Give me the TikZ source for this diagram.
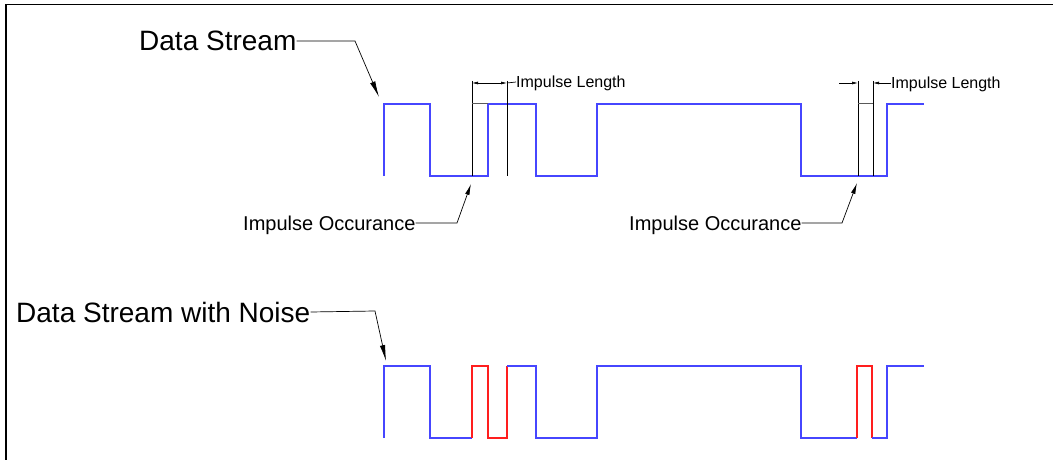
\documentclass[tikz,border=0pt]{standalone}
\usepackage{fontspec}
\setmainfont{Liberation Sans}
\usepackage{tikz}
\usetikzlibrary{arrows.meta}

\definecolor{sigblue}{RGB}{70,70,255}
\definecolor{noisered}{RGB}{255,30,30}

\tikzset{
	sig/.style={sigblue, line width=1.4pt},
	noise/.style={noisered, line width=1.4pt},
	dim/.style={black, line width=0.7pt},
	bigtxt/.style={font=\fontsize{28}{32}\selectfont, inner sep=0pt, text depth=0pt, anchor=west},
	midtxt/.style={font=\fontsize{20}{24}\selectfont, inner sep=0pt, text depth=0pt, anchor=west},
	smalltxt/.style={font=\fontsize{16}{20}\selectfont, inner sep=0pt, text depth=0pt, anchor=west},
	bigarrow/.style={dim, -{Latex[length=16pt,width=5.5pt]}},
	midarrow/.style={dim, -{Latex[length=11pt,width=4.5pt]}},
}

\begin{document}
\begin{tikzpicture}[x=1pt,y=-1pt]
\useasboundingbox (0,0) rectangle (1053,460);
% frame
\draw[line width=1.8pt] (6,460) -- (6,4.5) -- (1053,4.5);

% data stream
\draw[sig] (384,176) -- (384,104) -- (430,104) -- (430,176) -- (488,176) -- (488,104)
	-- (536,104) -- (536,176) -- (597,176) -- (597,104) -- (801,104) -- (801,176)
	-- (887,176) -- (887,104) -- (924,104);

% data stream with noise
\draw[sig] (384,438) -- (384,366) -- (430,366) -- (430,438) -- (472,438);
\draw[noise] (472,438) -- (472,366) -- (488,366) -- (488,438) -- (507,438) -- (507,366);
\draw[sig] (507,366) -- (536,366) -- (536,438) -- (597,438) -- (597,366) -- (801,366)
	-- (801,438) -- (857,438);
\draw[noise] (857,438) -- (857,366) -- (872,366) -- (872,438);
\draw[sig] (872,438) -- (887,438) -- (887,366) -- (924,366);

% impulse marks
\foreach \x in {472,507,858,873}
	{
	\draw[dim] (\x,81) -- (\x,176);
	}
\draw[dim, black!65, line width=1pt] (472,104) -- (488,104);
\draw[dim, black!65, line width=1pt] (858,104) -- (873,104);

% labels
\node[bigtxt] (dstream) at (139,41) {Data Stream};
\node[bigtxt] (dnoise) at (16,312) {Data Stream with Noise};
\node[midtxt] (occA) at (243,223) {Impulse Occurance};
\node[midtxt] (occB) at (629,223) {Impulse Occurance};
\node[smalltxt] (lenA) at (516,82) {Impulse Length};
\node[smalltxt] (lenB) at (891,83) {Impulse Length};

% leaders
\draw[bigarrow] (dstream.east) -- (355,41) -- (379,97);
\draw[bigarrow] (dnoise.east) -- (375,311) -- (386,361);
\draw[midarrow] (occA.east) -- (457,223) -- (471,184);
\draw[midarrow] (occB.east) -- (842,223) -- (857,183);

% dimensions
\draw[dim, {Latex[length=6pt,width=3pt]}-{Latex[length=6pt,width=3pt]}] (472,83) -- (507,83);
\draw[dim] (507,83) -- (lenA.west);
\draw[dim, -{Latex[length=6pt,width=3pt]}] (839,83) -- (858,83);
\draw[dim, {Latex[length=6pt,width=3pt]}-] (873,83) -- (lenB.west);
\end{tikzpicture}
\end{document}
